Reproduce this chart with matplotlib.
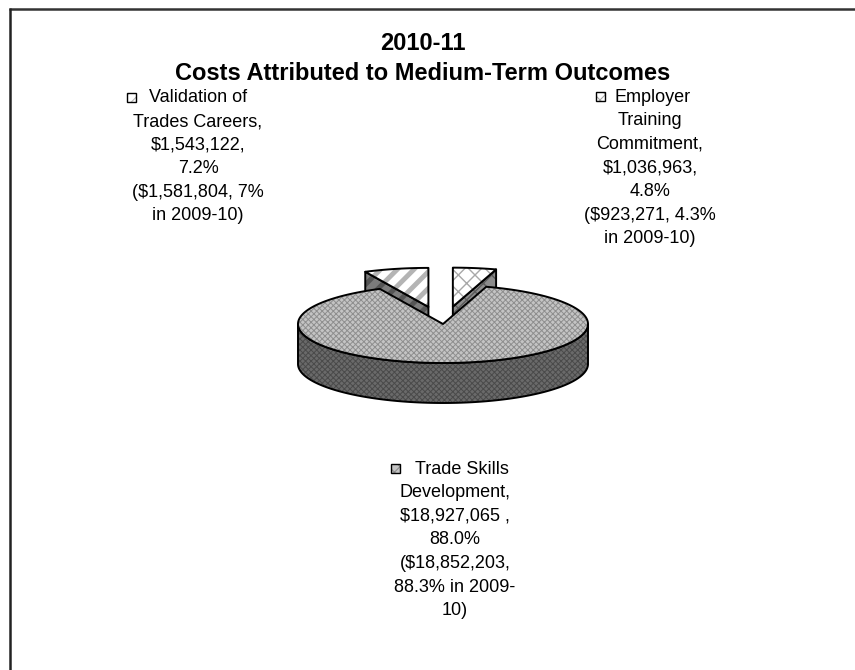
import numpy as np
import matplotlib
matplotlib.use("Agg")
import matplotlib.pyplot as plt
from matplotlib.patches import Polygon, Rectangle

plt.rcParams['font.family'] = ['Liberation Sans', 'DejaVu Sans']

# ---- data ----
title_lines = ["2010-11", "Costs Attributed to Medium-Term Outcomes"]
categories = ["Employer Training Commitment", "Trade Skills Development", "Validation of Trades Careers"]
values_2011 = [1036963, 18927065, 1543122]
pct_2011 = [4.8, 88.0, 7.2]
values_2010 = [923271, 18852203, 1581804]
pct_2010 = ["4.3%", "88.3%", "7%"]
explode = [0.45, 0.0, 0.45]

label_texts = [
    "Employer\nTraining\nCommitment,\n$1,036,963,\n4.8%\n($923,271, 4.3%\nin 2009-10)",
    "Trade Skills\nDevelopment,\n$18,927,065 ,\n88.0%\n($18,852,203,\n88.3% in 2009-\n10)",
    "Validation of\nTrades Careers,\n$1,543,122,\n7.2%\n($1,581,804, 7%\nin 2009-10)",
]

# ---- styles ----
W, H = 855, 670
fig = plt.figure(figsize=(W / 100, H / 100), dpi=100)
ax = fig.add_axes([0, 0, 1, 1])
ax.set_xlim(0, W)
ax.set_ylim(H, 0)
ax.axis('off')

cx, cy, rx, ry, depth = 443, 324, 145, 39, 40

styles = [
    dict(top='#ffffff', top_hatch='xx', top_hc='#a8a8a8', top_hlw=1.0,
         side='#8c8c8c', side_hatch='xx', side_hc='#5a5a5a', side_hlw=1.0),
    dict(top='#c4c4c4', top_hatch='xxxxxx', top_hc='#8e8e8e', top_hlw=0.7,
         side='#6a6a6a', side_hatch='xxxxxx', side_hc='#4a4a4a', side_hlw=0.7),
    dict(top='#ffffff', top_hatch='//', top_hc='#b4b4b4', top_hlw=3.5,
         side='#7c7c7c', side_hatch='//', side_hc='#555555', side_hlw=3.5),
]


def poly(pts, fc, hatch, hc, hlw, z):
    plt.rcParams['hatch.linewidth'] = hlw
    ax.add_patch(Polygon(pts, closed=True, facecolor=fc, edgecolor='none', lw=0, zorder=z))
    ax.add_patch(Polygon(pts, closed=True, facecolor='none', edgecolor=hc, hatch=hatch, lw=0, zorder=z))
    ax.add_patch(Polygon(pts, closed=True, facecolor='none', edgecolor='black', lw=1.4,
                         joinstyle='round', zorder=z))


def proj(theta, dx, dy, z=0.0):
    t = np.radians(theta)
    return np.column_stack([cx + dx + rx * np.cos(t), cy + dy - ry * np.sin(t) + z])


total = float(sum(values_2011))
angles = []
start = 90.0
for v in values_2011:
    span = 360.0 * v / total
    angles.append((start - span, start))
    start -= span

order = [0, 2, 1]  # exploded (back) slices first, main slice last
for i in order:
    t1, t2 = angles[i]
    mid = np.radians((t1 + t2) / 2)
    dx = explode[i] * rx * np.cos(mid)
    dy = -explode[i] * ry * np.sin(mid)
    st = styles[i]
    z = 2 + order.index(i) * 3
    arc = np.linspace(t1, t2, 400)
    front = ((arc % 360) >= 180) & ((arc % 360) <= 360)
    if front.any():
        a = arc[front]
        top = proj(a, dx, dy)
        bot = proj(a[::-1], dx, dy, depth)
        poly(np.vstack([top, bot]), st['side'], st['side_hatch'], st['side_hc'], st['side_hlw'], z)
    for th, vis in ((t1, np.cos(np.radians(t1)) > 1e-6), (t2, np.cos(np.radians(t2)) < -1e-6)):
        if vis:
            c0 = np.array([[cx + dx, cy + dy]])
            r0 = proj(np.array([th]), dx, dy)
            face = np.vstack([c0, r0, r0 + [0, depth], c0 + [0, depth]])
            poly(face, st['side'], st['side_hatch'], st['side_hc'], st['side_hlw'], z)
    top = np.vstack([[[cx + dx, cy + dy]], proj(arc, dx, dy)])
    poly(top, st['top'], st['top_hatch'], st['top_hc'], st['top_hlw'], z + 1)

# ---- title ----
ax.text(423, 44, title_lines[0], ha='center', va='center', fontsize=17, fontweight='bold')
ax.text(423, 74, title_lines[1], ha='center', va='center', fontsize=17, fontweight='bold')

# ---- labels with legend keys ----
label_pos = [(650, 97), (455, 469), (198, 98)]
key_pos = [(600, 96), (395, 468), (131, 97)]
first_off = [3, 7, 0]
lsp = 23.6
for i in range(3):
    lines = label_texts[i].split("\n")
    x0, y0 = label_pos[i]
    for k, ln in enumerate(lines):
        xx = x0 + (first_off[i] if k == 0 else 0)
        ax.text(xx, y0 + k * lsp, ln, ha='center', va='center', fontsize=13, zorder=20)
    kx, ky = key_pos[i]
    st = styles[i]
    plt.rcParams['hatch.linewidth'] = 0.8
    ax.add_patch(Rectangle((kx - 4.5, ky - 4.5), 9, 9, facecolor=st['top'], edgecolor='none', zorder=20))
    ax.add_patch(Rectangle((kx - 4.5, ky - 4.5), 9, 9, facecolor='none', edgecolor=st['top_hc'],
                           hatch='xxx' if i != 2 else '///', lw=0, zorder=20))
    ax.add_patch(Rectangle((kx - 4.5, ky - 4.5), 9, 9, facecolor='none', edgecolor='black', lw=1.0, zorder=21))

# ---- frame (top and left only) ----
ax.plot([9, W], [8.5, 8.5], color='#333333', lw=1.8, solid_capstyle='butt', zorder=30)
ax.plot([9.5, 9.5], [8, H], color='#222222', lw=1.8, solid_capstyle='butt', zorder=30)

fig.savefig("out.png", dpi=100)
